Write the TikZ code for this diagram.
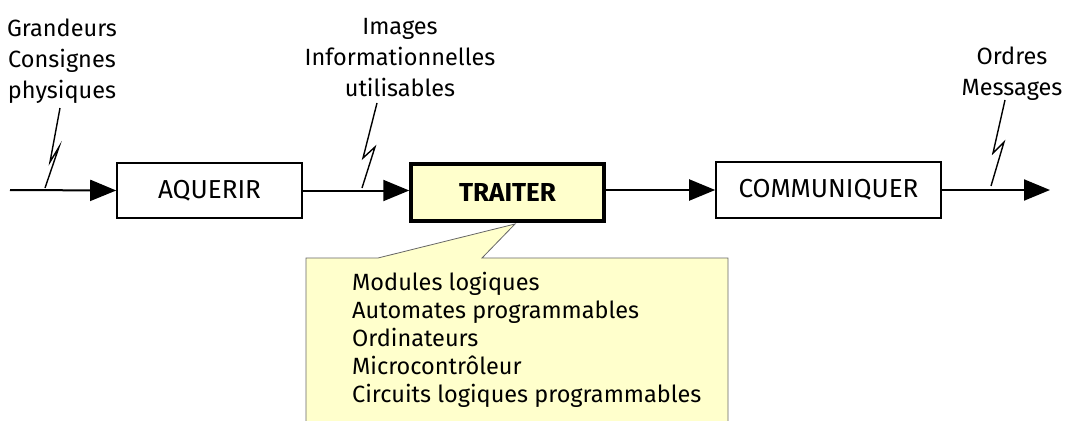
\documentclass[tikz,border=0pt]{standalone}
\usepackage{fontspec}
\setmainfont{Fira Sans}
\usetikzlibrary{arrows.meta}
\definecolor{paleyel}{HTML}{FFFFCC}
\tikzset{
  blk/.style={draw=black, line width=1.6pt, fill=white, font=\fontsize{26}{30}\selectfont},
  blkmain/.style={blk, line width=3.5pt, fill=paleyel, font=\fontsize{26}{30}\selectfont\bfseries},
  flow/.style={line width=2pt, -{Triangle[length=26pt,width=21pt]}},
  zap/.style={line width=1.4pt, line join=miter},
  lbl/.style={align=center, inner sep=0pt, font=\fontsize{23.5}{31}\selectfont},
  note/.style={draw=gray!80!black, line width=0.8pt, fill=paleyel}
}
\begin{document}
\begin{tikzpicture}[x=1pt,y=-1pt]
\useasboundingbox (0,0) rectangle (1067,420);
% callout
\draw[note] (306,258) -- (378,258) -- (515,224) -- (482,258) -- (728,258) -- (728,422) -- (306,422) -- cycle;
\node[anchor=north west, align=left, font=\fontsize{23.5}{28}\selectfont, inner sep=0pt] (list) at (352,272)
 {Modules logiques\\Automates programmables\\Ordinateurs\\Microcontrôleur\\Circuits logiques programmables};
% blocks
\node[blk, minimum width=185pt, minimum height=55pt] (acq) at (209.5,190.5) {AQUERIR};
\node[blkmain, minimum width=193pt, minimum height=57pt] (tra) at (507.5,192.5) {TRAITER};
\node[blk, minimum width=225pt, minimum height=56pt] (com) at (828.5,190) {COMMUNIQUER};
\coordinate (in) at (10,190);
\coordinate (out) at (1050,190);
\draw[flow] (in) -- (acq.west);
\draw[flow] (acq.east) -- (tra.west |- acq.east);
\draw[flow] (tra.east |- com.west) -- (com.west);
\draw[flow] (com.east) -- (out);
% lightning marks
\draw[zap] (60,108) -- (50,162) -- (59,147) -- (45,188);
\draw[zap] (377,103) -- (363,158) -- (375,147) -- (362,188);
\draw[zap] (1005,100) -- (993,153) -- (1004,142) -- (991,186);
% labels
\node[lbl, anchor=north] (l1) at (62,18.5) {Grandeurs\\Consignes\\physiques};
\node[lbl, anchor=north] (l2) at (400,18) {Images\\Informationnelles\\utilisables};
\node[lbl, anchor=north] (l3) at (1012,47) {Ordres\\Messages};
\end{tikzpicture}
\end{document}
